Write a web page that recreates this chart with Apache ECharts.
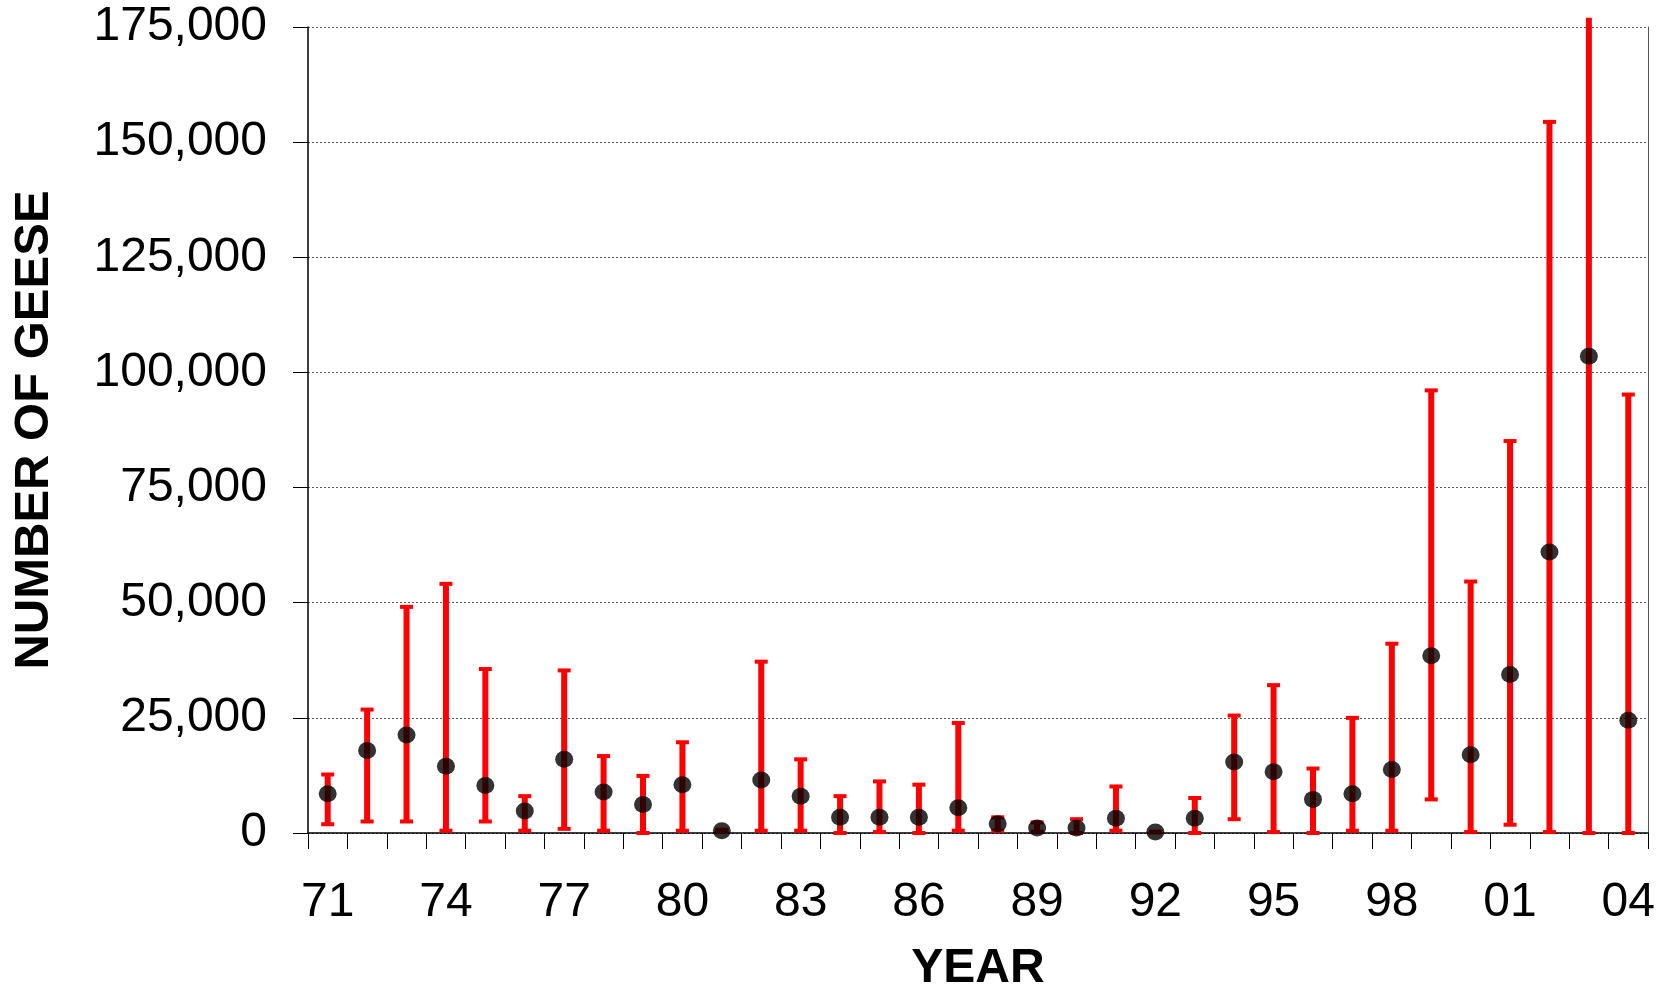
<!DOCTYPE html>
<html>
<head>
<meta charset="utf-8">
<script src="https://cdn.jsdelivr.net/npm/echarts@6/dist/echarts.min.js"></script>
<style>
  html, body { margin: 0; padding: 0; background: #fff; }
  #chart { width: 1664px; height: 998px; }
</style>
</head>
<body>
<div id="chart"></div>
<script>
  // survey years (2-digit labels, as in the original figure)
  const years = ['71', '72', '73', '74', '75', '76', '77', '78', '79', '80',
    '81', '82', '83', '84', '85', '86', '87', '88', '89', '90',
    '91', '92', '93', '94', '95', '96', '97', '98', '99', '00',
    '01', '02', '03', '04']
  // estimated number of geese
  const geese = [8500, 17900, 21300, 14500, 10300, 4800, 16000, 8900, 6200, 10500,
    500, 11500, 8000, 3400, 3400, 3400, 5500, 2000, 1100, 1100,
    3200, 200, 3200, 15400, 13300, 7300, 8500, 13800, 38500, 17000,
    34400, 61000, 103500, 24500]
  // confidence interval bounds
  const upper = [12700, 26800, 49100, 54100, 35600, 8000, 35300, 16700, 12400, 19700,
    700, 37200, 16000, 8000, 11200, 10500, 23900, 3400, 2300, 3000,
    10100, 300, 7600, 25500, 32100, 14000, 25000, 41100, 96100, 54600,
    85100, 154400, 177000, 95200]
  const lower = [1900, 2500, 2500, 500, 2500, 500, 900, 500, 0, 500,
    300, 500, 500, 0, 200, 0, 500, 500, 300, 0,
    500, 100, 0, 3000, 200, 0, 500, 500, 7300, 200,
    1800, 200, 0, 0]
  const yTicks = [0, 25000, 50000, 75000, 100000, 125000, 150000, 175000]

  const yMax = yTicks[yTicks.length - 1]
  const font = 'Liberation Sans, Arial, sans-serif'

  const chart = echarts.init(document.getElementById('chart'))

  chart.setOption({
    backgroundColor: '#ffffff',
    animation: false,
    grid: {
      left: 308,
      right: 16,
      top: 27,
      bottom: 159,
      containLabel: false
    },
    xAxis: {
      type: 'category',
      data: years,
      boundaryGap: true,
      name: 'YEAR',
      nameLocation: 'middle',
      nameGap: 112,
      nameTextStyle: {
        color: '#000',
        fontFamily: font,
        fontWeight: 'bold',
        fontSize: 48
      },
      axisLine: { lineStyle: { color: '#000', width: 1.5 } },
      axisTick: {
        show: true,
        interval: 0,
        length: 16,
        lineStyle: { color: '#000', width: 1 }
      },
      axisLabel: {
        interval: 2,
        margin: 46,
        color: '#000',
        fontFamily: font,
        fontSize: 48
      },
      splitLine: { show: false }
    },
    yAxis: [
      {
        type: 'value',
        min: yTicks[0],
        max: yMax,
        interval: 25000,
        name: 'NUMBER OF GEESE',
        nameLocation: 'middle',
        nameGap: 249,
        nameTextStyle: {
          color: '#000',
          fontFamily: font,
          fontWeight: 'bold',
          fontSize: 49
        },
        axisLine: { show: true, lineStyle: { color: '#000', width: 1.5 } },
        axisTick: { show: true, inside: false, length: 15, lineStyle: { color: '#000' } },
        axisLabel: {
          margin: 41,
          color: '#000',
          fontFamily: font,
          fontSize: 48,
          formatter: function (v) { return v.toLocaleString('en-US') }
        },
        splitLine: {
          show: true,
          lineStyle: { color: '#555', width: 1, type: [2, 2] }
        }
      },
      {
        // right border of the plot area
        type: 'value',
        position: 'right',
        min: yTicks[0],
        max: yMax,
        interval: 25000,
        axisLine: { show: true, lineStyle: { color: '#555', width: 1 } },
        axisTick: { show: false },
        axisLabel: { show: false },
        splitLine: { show: false }
      }
    ],
    series: [
      {
        name: 'range',
        type: 'custom',
        clip: false,
        z: 2,
        encode: { x: 0, y: [1, 2] },
        data: years.map((y, i) => [i, lower[i], upper[i]]),
        renderItem: function (params, api) {
          const i = api.value(0)
          const lo = api.coord([i, api.value(1)])
          const hi = api.coord([i, api.value(2)])
          const half = 6.5
          const red = '#ff0000'
          const children = [
            {
              type: 'line',
              shape: { x1: lo[0], y1: lo[1], x2: hi[0], y2: hi[1] },
              style: { stroke: red, lineWidth: 6 }
            },
            {
              type: 'line',
              shape: { x1: lo[0] - half, y1: lo[1], x2: lo[0] + half, y2: lo[1] },
              style: { stroke: red, lineWidth: 4 }
            }
          ]
          // bar running off the top of the plot has no cap
          if (api.value(2) <= yMax) {
            children.push({
              type: 'line',
              shape: { x1: hi[0] - half, y1: hi[1], x2: hi[0] + half, y2: hi[1] },
              style: { stroke: red, lineWidth: 4 }
            })
          }
          return { type: 'group', children: children }
        }
      },
      {
        name: 'geese',
        type: 'scatter',
        z: 5,
        symbol: 'circle',
        symbolSize: [18, 17],
        itemStyle: { color: '#000' },
        data: geese
      }
    ]
  })

  window.addEventListener('resize', () => chart.resize())
</script>
</body>
</html>
